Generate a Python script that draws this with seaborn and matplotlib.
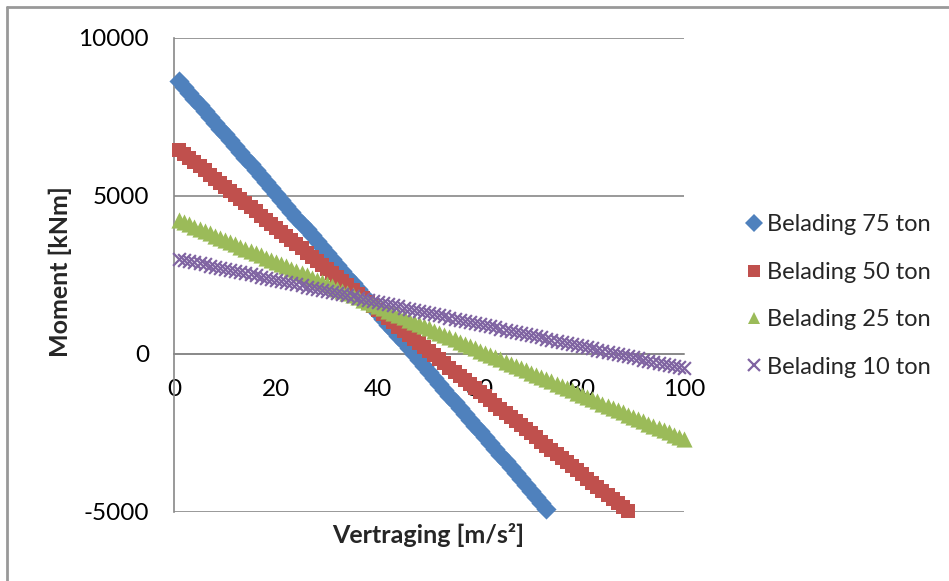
import matplotlib
matplotlib.use("Agg")
import matplotlib.pyplot as plt
import pandas as pd
import seaborn as sns
from matplotlib.lines import Line2D

# Data (one marker per unit of deceleration)
vertraging = [1, 2, 3, 4, 5, 6, 7, 8, 9, 10, 11, 12, 13, 14, 15, 16, 17, 18, 19, 20,
              21, 22, 23, 24, 25, 26, 27, 28, 29, 30, 31, 32, 33, 34, 35, 36, 37, 38, 39, 40,
              41, 42, 43, 44, 45, 46, 47, 48, 49, 50, 51, 52, 53, 54, 55, 56, 57, 58, 59, 60,
              61, 62, 63, 64, 65, 66, 67, 68, 69, 70, 71, 72, 73, 74, 75, 76, 77, 78, 79, 80,
              81, 82, 83, 84, 85, 86, 87, 88, 89, 90, 91, 92, 93, 94, 95, 96, 97, 98, 99, 100]

moment_75 = [8640, 8452, 8264, 8076, 7888, 7700, 7512, 7324, 7136, 6948,
             6760, 6572, 6384, 6196, 6008, 5820, 5632, 5444, 5256, 5068,
             4880, 4692, 4504, 4316, 4128, 3940, 3752, 3564, 3376, 3188,
             3000, 2812, 2624, 2436, 2248, 2060, 1872, 1684, 1496, 1308,
             1120, 932, 744, 556, 368, 180, -8, -196, -384, -572,
             -760, -948, -1136, -1324, -1512, -1700, -1888, -2076, -2264, -2452,
             -2640, -2828, -3016, -3204, -3392, -3580, -3768, -3956, -4144, -4332,
             -4520, -4708, -4896]

moment_50 = [6460, 6330, 6200, 6070, 5940, 5810, 5680, 5550, 5420, 5290,
             5160, 5030, 4900, 4770, 4640, 4510, 4380, 4250, 4120, 3990,
             3860, 3730, 3600, 3470, 3340, 3210, 3080, 2950, 2820, 2690,
             2560, 2430, 2300, 2170, 2040, 1910, 1780, 1650, 1520, 1390,
             1260, 1130, 1000, 870, 740, 610, 480, 350, 220, 90,
             -40, -170, -300, -430, -560, -690, -820, -950, -1080, -1210,
             -1340, -1470, -1600, -1730, -1860, -1990, -2120, -2250, -2380, -2510,
             -2640, -2770, -2900, -3030, -3160, -3290, -3420, -3550, -3680, -3810,
             -3940, -4070, -4200, -4330, -4460, -4590, -4720, -4850, -4980]

moment_25 = [4240, 4170, 4100, 4030, 3960, 3890, 3820, 3750, 3680, 3610,
             3540, 3470, 3400, 3330, 3260, 3190, 3120, 3050, 2980, 2910,
             2840, 2770, 2700, 2630, 2560, 2490, 2420, 2350, 2280, 2210,
             2140, 2070, 2000, 1930, 1860, 1790, 1720, 1650, 1580, 1510,
             1440, 1370, 1300, 1230, 1160, 1090, 1020, 950, 880, 810,
             740, 670, 600, 530, 460, 390, 320, 250, 180, 110,
             40, -30, -100, -170, -240, -310, -380, -450, -520, -590,
             -660, -730, -800, -870, -940, -1010, -1080, -1150, -1220, -1290,
             -1360, -1430, -1500, -1570, -1640, -1710, -1780, -1850, -1920, -1990,
             -2060, -2130, -2200, -2270, -2340, -2410, -2480, -2550, -2620, -2690]

moment_10 = [3010, 2975, 2940, 2905, 2870, 2835, 2800, 2765, 2730, 2695,
             2660, 2625, 2590, 2555, 2520, 2485, 2450, 2415, 2380, 2345,
             2310, 2275, 2240, 2205, 2170, 2135, 2100, 2065, 2030, 1995,
             1960, 1925, 1890, 1855, 1820, 1785, 1750, 1715, 1680, 1645,
             1610, 1575, 1540, 1505, 1470, 1435, 1400, 1365, 1330, 1295,
             1260, 1225, 1190, 1155, 1120, 1085, 1050, 1015, 980, 945,
             910, 875, 840, 805, 770, 735, 700, 665, 630, 595,
             560, 525, 490, 455, 420, 385, 350, 315, 280, 245,
             210, 175, 140, 105, 70, 35, 0, -35, -70, -105,
             -140, -175, -210, -245, -280, -315, -350, -385, -420, -455]

labels = ["Belading 75 ton", "Belading 50 ton", "Belading 25 ton", "Belading 10 ton"]
series = [moment_75, moment_50, moment_25, moment_10]
colors = ["#4F81BD", "#C0504D", "#9BBB59", "#8064A2"]
markers = ["D", "s", "^", "x"]
sizes = [105, 110, 135, 85]

sns.set_style("white")
plt.rcParams['font.family'] = ['Lato', 'DejaVu Sans']
plt.rcParams['axes.unicode_minus'] = False

fig = plt.figure(figsize=(9.49, 5.81), dpi=100)
ax = fig.add_axes([174 / 949, 1 - 512 / 581, 510 / 949, 474 / 581])

for name, vals, c, m, s in zip(labels, series, colors, markers, sizes):
    df = pd.DataFrame({"x": vertraging[:len(vals)], "y": vals})
    if m == "x":
        sns.scatterplot(data=df, x="x", y="y", ax=ax, marker=m, color=c, s=s,
                        linewidth=1.6, clip_on=False, zorder=3)
    else:
        sns.scatterplot(data=df, x="x", y="y", ax=ax, marker=m, color=c, s=s,
                        linewidth=0, clip_on=False, zorder=3)

ax.set_xlim(0, 100)
ax.set_ylim(-5000, 10000)
ax.set_xticks([0, 20, 40, 60, 80, 100])
ax.set_yticks([-5000, 0, 5000, 10000])
ax.set_xlabel("")
ax.set_ylabel("")

grid_col = "#888888"
ax.yaxis.grid(True, color=grid_col, linewidth=1.2)
ax.xaxis.grid(False)
ax.set_axisbelow(True)
for side in ["top", "right"]:
    ax.spines[side].set_visible(False)
ax.spines["left"].set_color(grid_col)
ax.spines["left"].set_linewidth(1.2)
ax.spines["bottom"].set_position(("data", 0))
ax.spines["bottom"].set_color(grid_col)
ax.spines["bottom"].set_linewidth(1.2)
ax.tick_params(axis="both", length=0, labelsize=17.5, colors="black")
ax.tick_params(axis="x", pad=18)
ax.tick_params(axis="y", pad=18)

fig.text(60 / 949, 1 - 272 / 581, "Moment [kNm]", rotation=90, ha="center",
         va="center", fontsize=18, fontweight="bold")
fig.text(428 / 949, 1 - 535 / 581, "Vertraging [m/s²]", ha="center",
         va="center", fontsize=18, fontweight="bold")

handles = [Line2D([], [], linestyle="none", marker=m, color=c, markersize=9,
                  markeredgewidth=(1.6 if m == "x" else 0))
           for c, m in zip(colors, markers)]
fig.legend(handles, labels, loc="center left", frameon=False, fontsize=17,
           bbox_to_anchor=(742 / 949, 1 - 296 / 581), handletextpad=0.05,
           handlelength=1.0, labelspacing=1.12, borderaxespad=0, borderpad=0)

# outer chart border
fig.add_artist(Line2D([7 / 949, 7 / 949], [0, 1 - 7 / 581], transform=fig.transFigure,
                      color="#999999", linewidth=2))
fig.add_artist(Line2D([7 / 949, 1], [1 - 7 / 581, 1 - 7 / 581], transform=fig.transFigure,
                      color="#999999", linewidth=2))

fig.savefig("out.png", dpi=100)
